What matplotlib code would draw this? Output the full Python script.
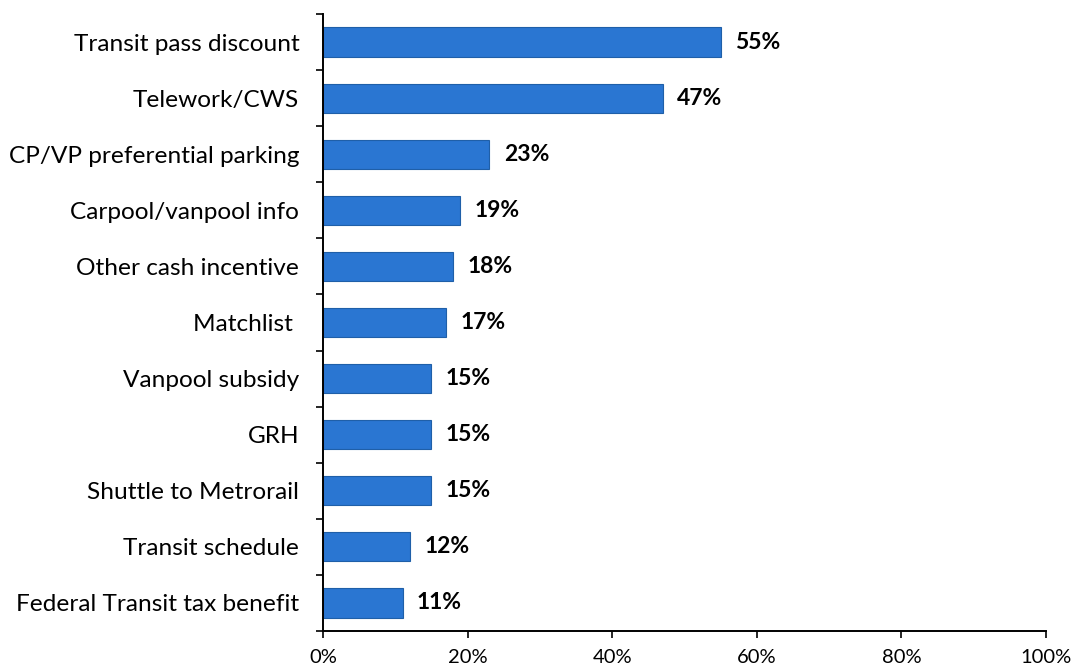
import matplotlib
matplotlib.use("Agg")
import matplotlib.pyplot as plt
from matplotlib.ticker import FixedLocator

categories = ["Transit pass discount", "Telework/CWS", "CP/VP preferential parking",
              "Carpool/vanpool info", "Other cash incentive", "Matchlist ",
              "Vanpool subsidy", "GRH", "Shuttle to Metrorail", "Transit schedule",
              "Federal Transit tax benefit"]
values = [55, 47, 23, 19, 18, 17, 15, 15, 15, 12, 11]
xticks = [0, 20, 40, 60, 80, 100]

plt.rcParams['font.family'] = ['Lato', 'DejaVu Sans']

fig = plt.figure(figsize=(10.78, 6.71), dpi=100)
ax = fig.add_axes([0.2996, 0.0596, 0.6707, 0.9196])

n = len(categories)
ypos = list(range(n))
ax.barh(ypos, values, height=0.52, color="#2a76d2", edgecolor="#1f5fa8", linewidth=0.8)
ax.set_ylim(n - 0.5, -0.5)
ax.set_xlim(0, 100)

for y, v in zip(ypos, values):
    ax.text(v + 2.0, y, f"{v}%", va="center", ha="left", fontsize=16.5, fontweight="bold")

ax.set_yticks(ypos)
ax.set_yticklabels(categories, fontsize=17.6)
ax.yaxis.set_minor_locator(FixedLocator([i - 0.5 for i in range(n + 1)]))
ax.tick_params(axis="y", which="major", length=0, pad=17)
ax.tick_params(axis="y", which="minor", length=5, width=1.2, direction="out")

ax.set_xticks(xticks)
ax.set_xticklabels([f"{t}%" for t in xticks], fontsize=14.5)
ax.tick_params(axis="x", length=5, width=1.2, direction="out", pad=8)

for s in ["top", "right"]:
    ax.spines[s].set_visible(False)
for s in ["left", "bottom"]:
    ax.spines[s].set_linewidth(1.4)

fig.savefig("out.png", dpi=100)
